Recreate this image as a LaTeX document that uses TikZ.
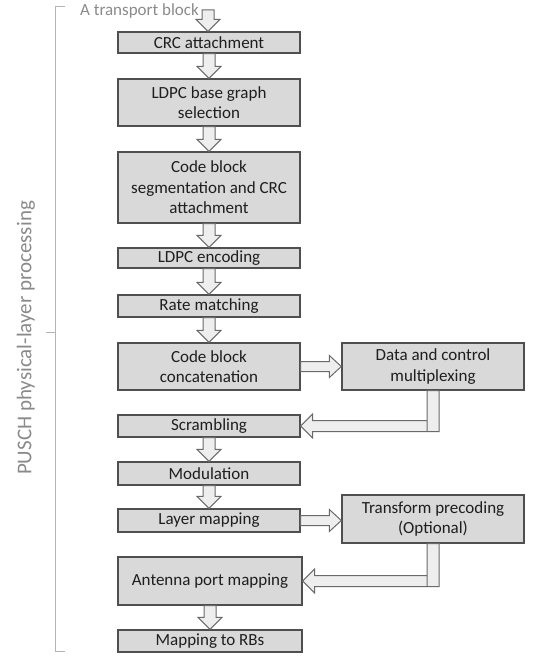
\documentclass[tikz,border=0pt]{standalone}
\usepackage{fontspec}
\setmainfont{Carlito}
\usetikzlibrary{calc}
\definecolor{boxfill}{HTML}{D9D9D9}
\definecolor{boxline}{HTML}{4F4F4F}
\definecolor{boxtext}{HTML}{1E1E1E}
\definecolor{arrfill}{HTML}{EEEEEE}
\definecolor{arrline}{HTML}{6A6A6A}
\definecolor{labelgray}{HTML}{8A8A8A}
\definecolor{bracegray}{HTML}{B4B4B4}

\begin{document}
\begin{tikzpicture}[x=1pt,y=-1pt]
    \tikzstyle{block} = [draw=boxline, fill=boxfill, line width=1.3pt, text=boxtext, minimum width=182pt, align=center, inner sep=0pt, font=\fontsize{17}{20.5}\selectfont];
    \tikzstyle{fat} = [draw=arrline, fill=arrfill, line width=1pt];
    \tikzstyle{dnarrow} = [fat, to path={let \p1=(\tikztostart), \p2=(\tikztotarget) in
        (\x1-6pt,\y1) -- (\x1-6pt,\y2+12pt) -- (\x1-12pt,\y2+12pt) -- (\x1,\y2) -- (\x1+12pt,\y2+12pt) -- (\x1+6pt,\y2+12pt) -- (\x1+6pt,\y1) -- cycle}];
    \tikzstyle{rtarrow} = [fat, to path={let \p1=(\tikztostart), \p2=(\tikztotarget) in
        (\x1,\y1+5pt) -- (\x2-12pt,\y1+5pt) -- (\x2-12pt,\y1+11pt) -- (\x2,\y1) -- (\x2-12pt,\y1-11pt) -- (\x2-12pt,\y1-5pt) -- (\x1,\y1-5pt) -- cycle}];
    \tikzstyle{backarrow} = [fat, to path={let \p1=(\tikztostart), \p2=(\tikztotarget) in
        (\x1-6pt,\y2+5.5pt) -- (\x2+12pt,\y2+5.5pt) -- (\x2+12pt,\y2+12pt) -- (\x2,\y2) -- (\x2+12pt,\y2-12pt) -- (\x2+12pt,\y2-5.5pt) -- (\x1-6pt,\y2-5.5pt) -- cycle
        (\x1-6pt,\y1) rectangle (\x1+6pt,\y2-5.5pt)}];
    \tikzstyle{bracket} = [draw=bracegray, line width=1pt];
    \useasboundingbox (0,0) rectangle (537,661);

    \node[text=labelgray, inner sep=0pt, font=\fontsize{17}{20.5}\selectfont] (TB) at (139.5,11) {A transport block};
    \coordinate (TBin) at (208,10);
    \node[block, minimum height=21pt] (CRC) at (209,42.5) {CRC attachment};
    \node[block, minimum height=47pt] (BG) at (209,102.5) {LDPC base graph\\selection};
    \node[block, minimum height=71pt] (SEG) at (209,187.5) {Code block\\segmentation and CRC\\attachment};
    \node[block, minimum height=20pt] (ENC) at (209,258) {LDPC encoding};
    \node[block, minimum height=22pt] (RM) at (209,306) {Rate matching};
    \node[block, minimum height=47pt] (CONC) at (209,366.5) {Code block\\concatenation};
    \node[block, minimum height=47pt] (MUX) at (433,366.5) {Data and control\\multiplexing};
    \node[block, minimum height=22pt] (SCR) at (209,426) {Scrambling};
    \node[block, minimum height=23pt] (MOD) at (209,473.5) {Modulation};
    \node[block, minimum height=23pt] (LAYER) at (209,520.5) {Layer mapping};
    \node[block, minimum height=48pt] (TP) at (433,519) {Transform precoding\\(Optional)};
    \node[block, minimum height=48pt, minimum width=184pt] (ANT) at (210,581) {Antenna port mapping};
    \node[block, minimum height=22pt, minimum width=184pt] (RB) at (210,641) {Mapping to RBs};

    \path[dnarrow] (TBin) to (CRC.north);
    \path[dnarrow] (CRC.south) to (BG.north);
    \path[dnarrow] (BG.south) to (SEG.north);
    \path[dnarrow] (SEG.south) to (ENC.north);
    \path[dnarrow] (ENC.south) to (RM.north);
    \path[dnarrow] (RM.south) to (CONC.north);
    \path[rtarrow] (CONC.east) to (MUX.west);
    \path[backarrow] (MUX.south) to (SCR.east);
    \path[dnarrow] (SCR.south) to (MOD.north);
    \path[dnarrow] (MOD.south) to (LAYER.north);
    \path[rtarrow] (LAYER.east) to (TP.west);
    \path[backarrow] (TP.south) to (ANT.east);
    \path[dnarrow] (ANT.south) to (RB.north);

    % bracket on the left
    \draw[bracket] (65,7) -- (55,7) -- (55,651) -- (65,651);
    \draw[bracket] (55,332) -- (46,332);
    \node[rotate=90, text=labelgray, inner sep=0pt, font=\fontsize{21}{24}\selectfont] (PUSCH) at (26,338) {PUSCH physical-layer processing};
\end{tikzpicture}
\end{document}
